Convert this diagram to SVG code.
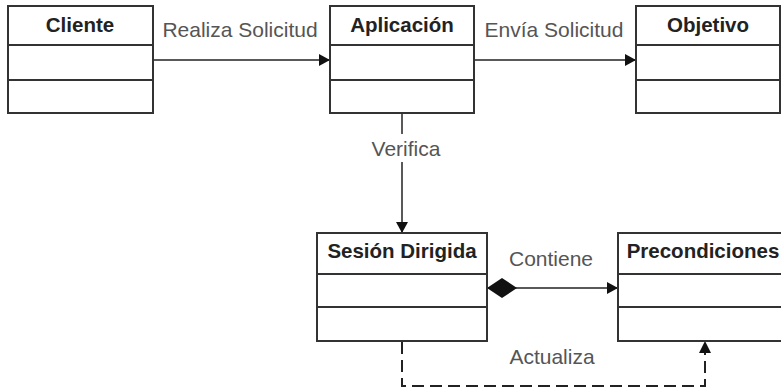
<svg xmlns="http://www.w3.org/2000/svg" width="781" height="391" viewBox="0 0 781 391">
<style>
.box{fill:#fff;stroke:#333;stroke-width:2}
.div{stroke:#333;stroke-width:2}
.title{font-family:"Liberation Sans",Arial,sans-serif;font-weight:bold;font-size:20.5px;fill:#222;text-anchor:middle}
.lbl{font-family:"Liberation Sans",Arial,sans-serif;font-size:21px;fill:#555;text-anchor:middle}
.ln{fill:none;stroke:#222;stroke-width:1.5}
.dash{fill:none;stroke:#222;stroke-width:2;stroke-dasharray:12 6}
</style>
<defs>
<marker id="arr" viewBox="0 0 11 12" refX="11" refY="6" markerWidth="11" markerHeight="12" markerUnits="userSpaceOnUse" orient="auto">
<path d="M0,0 L11,6 L0,12 z" fill="#111"/>
</marker>
<marker id="dia" viewBox="0 0 30 20" refX="0" refY="10" markerWidth="30" markerHeight="20" markerUnits="userSpaceOnUse" orient="auto">
<path d="M0,10 L15,0 L30,10 L15,20 z" fill="#111"/>
</marker>
</defs>
<rect width="781" height="391" fill="#fff"/>
<g id="connectors">
<line class="ln" x1="153" y1="60" x2="330" y2="60" marker-end="url(#arr)"/>
<line class="ln" x1="474" y1="60" x2="636" y2="60" marker-end="url(#arr)"/>
<line class="ln" x1="402" y1="113" x2="402" y2="233" marker-end="url(#arr)"/>
<line class="ln" x1="487" y1="288" x2="618" y2="288" marker-start="url(#dia)" marker-end="url(#arr)"/>
<path class="dash" d="M402,342 V386 H705 V352"/>
<path d="M699,353 L705,341 L711,353 z" fill="#111"/>
<rect x="366" y="134" width="80" height="28" fill="#fff"/>
<text class="lbl" x="240" y="37">Realiza Solicitud</text>
<text class="lbl" x="554" y="37">Envía Solicitud</text>
<text class="lbl" x="406" y="156">Verifica</text>
<text class="lbl" x="551" y="266">Contiene</text>
<text class="lbl" x="552" y="364">Actualiza</text>
</g>
<g id="cliente">
<rect class="box" x="8" y="6" width="145" height="107"/>
<line class="div" x1="8" y1="45" x2="153" y2="45"/>
<line class="div" x1="8" y1="80" x2="153" y2="80"/>
<text class="title" x="80" y="32">Cliente</text>
</g>
<g id="aplicacion">
<rect class="box" x="330" y="6" width="144" height="107"/>
<line class="div" x1="330" y1="45" x2="474" y2="45"/>
<line class="div" x1="330" y1="80" x2="474" y2="80"/>
<text class="title" x="402" y="32">Aplicación</text>
</g>
<g id="objetivo">
<rect class="box" x="636" y="6" width="144" height="107"/>
<line class="div" x1="636" y1="45" x2="780" y2="45"/>
<line class="div" x1="636" y1="80" x2="780" y2="80"/>
<text class="title" x="708" y="32">Objetivo</text>
</g>
<g id="sesion">
<rect class="box" x="317" y="233" width="170" height="108"/>
<line class="div" x1="317" y1="274" x2="487" y2="274"/>
<line class="div" x1="317" y1="307" x2="487" y2="307"/>
<text class="title" x="402" y="258">Sesión Dirigida</text>
</g>
<g id="precondiciones">
<rect class="box" x="618" y="233" width="170" height="108"/>
<line class="div" x1="618" y1="274" x2="788" y2="274"/>
<line class="div" x1="618" y1="307" x2="788" y2="307"/>
<text class="title" x="703" y="258">Precondiciones</text>
</g>
</svg>
